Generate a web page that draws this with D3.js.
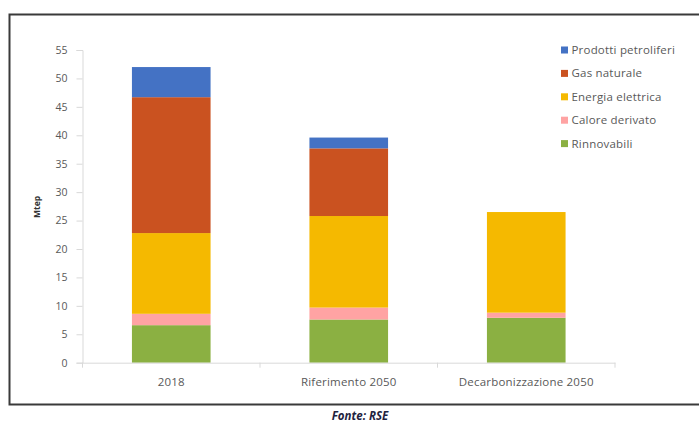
<!DOCTYPE html>
<html>
<head>
<meta charset="utf-8">
<script src="https://cdn.jsdelivr.net/npm/d3@7"></script>
<style>
  body { margin: 0; background: #fff; }
  svg { display: block; font-family: "Open Sans", "Liberation Sans", sans-serif; }
</style>
</head>
<body>
<div id="chart"></div>
<script>
// Consumi finali per fonte (Mtep)
const categories = ['2018', 'Riferimento 2050', 'Decarbonizzazione 2050'];
const seriesNames = ['Rinnovabili', 'Calore derivato', 'Energia elettrica', 'Gas naturale', 'Prodotti petroliferi'];
const seriesColors = ['#8bb042', '#ffa3a3', '#f5b900', '#ca5220', '#4472c4'];
const rinnovabili = [6.6, 7.6, 7.9];
const caloreDerivato = [2.0, 2.1, 0.9];
const energiaElettrica = [14.2, 16.1, 17.7];
const gasNaturale = [23.9, 11.9, 0];
const prodottiPetroliferi = [5.3, 1.9, 0];
const yTicks = [0, 5, 10, 15, 20, 25, 30, 35, 40, 45, 50, 55];

const width = 699, height = 424;
const svg = d3.select('#chart').append('svg')
    .attr('width', width)
    .attr('height', height);

// frame
svg.append('path')
    .attr('d', `M${width + 5},14.5 H9.5 V404.5 H${width + 5}`)
    .attr('fill', 'none')
    .attr('stroke', '#3a3a3a')
    .attr('stroke-width', 2);

const rows = categories.map((c, i) => ({
    cat: c,
    'Rinnovabili': rinnovabili[i],
    'Calore derivato': caloreDerivato[i],
    'Energia elettrica': energiaElettrica[i],
    'Gas naturale': gasNaturale[i],
    'Prodotti petroliferi': prodottiPetroliferi[i]
}));
const stacked = d3.stack().keys(seriesNames)(rows);

const x = d3.scaleBand()
    .domain(categories)
    .range([82.5, 615])
    .paddingInner(0.557)
    .paddingOuter(0.2785);
const y = d3.scaleLinear()
    .domain([0, 55])
    .range([362.7, 50]);

// bars
svg.append('g').selectAll('g')
    .data(stacked)
    .join('g')
    .attr('fill', (d, i) => seriesColors[i])
    .selectAll('rect')
    .data(d => d)
    .join('rect')
    .attr('x', d => x(d.data.cat))
    .attr('width', x.bandwidth())
    .attr('y', d => y(d[1]))
    .attr('height', d => y(d[0]) - y(d[1]));

// y axis
const yAxis = svg.append('g')
    .attr('transform', 'translate(82.5,0)')
    .call(d3.axisLeft(y).tickValues(yTicks).tickSize(6).tickPadding(9));
yAxis.select('.domain').attr('stroke', '#d9d9d9');
yAxis.selectAll('.tick line').attr('stroke', '#d9d9d9');
yAxis.selectAll('text')
    .attr('fill', '#595959')
    .attr('font-size', 10.5)
    .attr('font-family', '"Open Sans", sans-serif');

// x axis
const xAxis = svg.append('g')
    .attr('transform', `translate(0,${y(0)})`)
    .call(d3.axisBottom(x).tickSize(0).tickPadding(15));
xAxis.select('.domain').attr('stroke', '#d9d9d9');
xAxis.selectAll('text')
    .attr('fill', '#595959')
    .attr('font-size', 11.5)
    .attr('letter-spacing', 0.2)
    .attr('font-family', '"Open Sans", sans-serif');
// tick marks at category boundaries
const bounds = categories.map(c => x(c) - x.step() * x.paddingInner() / 2);
bounds.push(x.range()[1]);
xAxis.selectAll('.bound')
    .data(bounds)
    .join('line')
    .attr('class', 'bound')
    .attr('x1', d => d).attr('x2', d => d)
    .attr('y1', 0).attr('y2', 5)
    .attr('stroke', '#d9d9d9');

// y label
svg.append('text')
    .attr('transform', 'translate(40,207) rotate(-90)')
    .attr('text-anchor', 'middle')
    .attr('font-size', 8.5)
    .attr('font-weight', 'bold')
    .attr('fill', '#333')
    .text('Mtep');

// legend (top to bottom, reverse of stack order)
const legendItems = seriesNames.slice().reverse();
const legendColors = seriesColors.slice().reverse();
const legend = svg.append('g').attr('transform', 'translate(561,50)');
legendItems.forEach((name, i) => {
    const g = legend.append('g').attr('transform', `translate(0,${i * 23.4})`);
    g.append('rect')
        .attr('x', 0).attr('y', -3.5)
        .attr('width', 7).attr('height', 7)
        .attr('fill', legendColors[i]);
    g.append('text')
        .attr('x', 10.5).attr('y', 4)
        .attr('font-size', 11.5)
        .attr('letter-spacing', 0.2)
        .attr('fill', '#595959')
        .text(name);
});

// source
svg.append('text')
    .attr('x', 360)
    .attr('y', 420)
    .attr('text-anchor', 'middle')
    .attr('font-size', 11.5)
    .attr('font-style', 'italic')
    .attr('font-weight', 'bold')
    .attr('fill', '#1f2340')
    .text('Fonte: RSE');
</script>
</body>
</html>
